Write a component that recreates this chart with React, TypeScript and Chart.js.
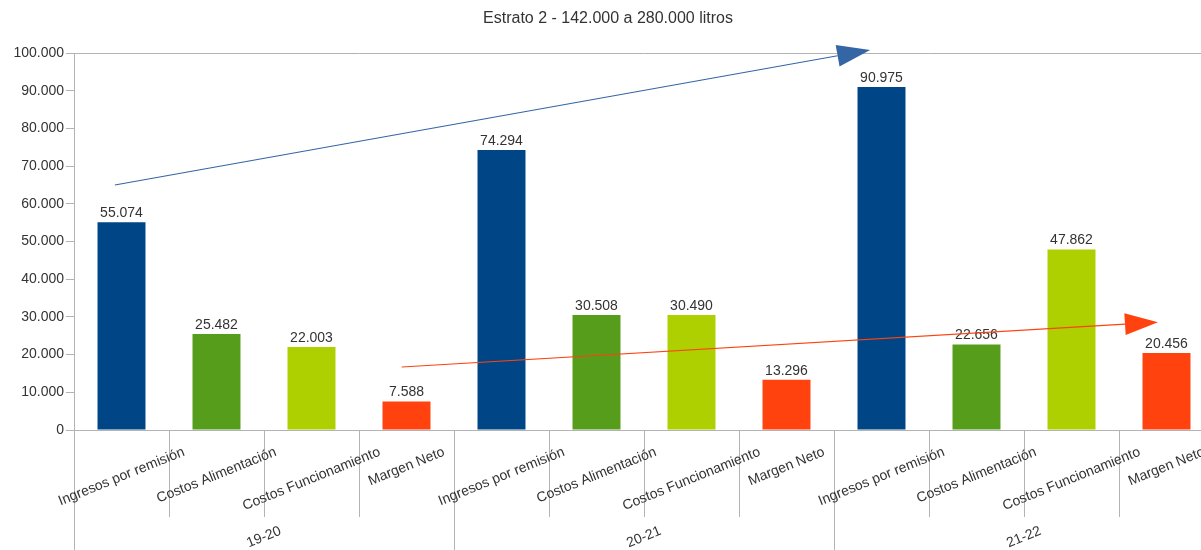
import React, { useEffect, useRef } from "react";
import { Chart, registerables } from "chart.js";

Chart.register(...registerables);

const chartTitle = "Estrato 2 - 142.000 a 280.000 litros";
const periods = ["19-20", "20-21", "21-22"];
const categories = [
  "Ingresos por remisión",
  "Costos Alimentación",
  "Costos Funcionamiento",
  "Margen Neto",
];
const ingresosPorRemision = [55074, 74294, 90975];
const costosAlimentacion = [25482, 30508, 22656];
const costosFuncionamiento = [22003, 30490, 47862];
const margenNeto = [7588, 13296, 20456];
const categoryColors = ["#004586", "#579d1c", "#aecf00", "#ff420e"];
const yMin = 0;
const yMax = 100000;
const yStep = 10000;

// Trend arrows given in data space: [category index, value]
const trendArrows = [
  { from: [-0.07, 65000], to: [7.88, 100800], color: "#3465a4" },
  { from: [2.95, 16700], to: [10.91, 28600], color: "#ff420e" },
];

const FONT = "'Liberation Sans', Arial, sans-serif";
const TEXT = "#333333";
const AXIS = "#b3b3b3";
const ANGLE = (-22 * Math.PI) / 180;

const seriesByCategory = [
  ingresosPorRemision,
  costosAlimentacion,
  costosFuncionamiento,
  margenNeto,
];

const barLabels: string[] = [];
const barValues: number[] = [];
const barColors: string[] = [];
periods.forEach((_, p) => {
  categories.forEach((c, i) => {
    barLabels.push(c);
    barValues.push(seriesByCategory[i][p]);
    barColors.push(categoryColors[i]);
  });
});

const fmt = (v: number) =>
  String(Math.round(v)).replace(/\B(?=(\d{3})+(?!\d))/g, ".");

function drawRotatedCentered(
  ctx: CanvasRenderingContext2D,
  text: string,
  cx: number,
  top: number,
  size: number
) {
  ctx.font = `${size}px ${FONT}`;
  const w = ctx.measureText(text).width;
  const h = size;
  const H = w * Math.abs(Math.sin(ANGLE)) + h * Math.cos(ANGLE);
  ctx.save();
  ctx.translate(cx, top + H / 2);
  ctx.rotate(ANGLE);
  ctx.textAlign = "center";
  ctx.textBaseline = "middle";
  ctx.fillStyle = TEXT;
  ctx.fillText(text, 0, 0);
  ctx.restore();
}

const decorPlugin = {
  id: "decor",
  afterDraw(chart: any) {
    const { ctx, chartArea, scales } = chart;
    const xs = scales.x;
    const ys = scales.y;
    const n = barLabels.length;
    const catW = (chartArea.right - chartArea.left) / n;
    const axisY = chartArea.bottom;

    ctx.save();
    // separators
    ctx.strokeStyle = AXIS;
    ctx.lineWidth = 1;
    for (let i = 0; i <= n; i++) {
      const x = Math.round(xs.getPixelForValue(i) - catW / 2) + 0.5;
      const isGroup = i % categories.length === 0;
      ctx.beginPath();
      ctx.moveTo(x, axisY);
      ctx.lineTo(x, isGroup ? chart.height : axisY + 87);
      ctx.stroke();
    }

    // category labels
    barLabels.forEach((lab, i) => {
      drawRotatedCentered(ctx, lab, xs.getPixelForValue(i), axisY + 15, 14);
    });
    // period labels
    periods.forEach((p, g) => {
      const a = xs.getPixelForValue(g * categories.length) - catW / 2;
      const b = xs.getPixelForValue((g + 1) * categories.length - 1) + catW / 2;
      drawRotatedCentered(ctx, p, (a + b) / 2, axisY + 94, 14);
    });

    // value labels
    const meta = chart.getDatasetMeta(0);
    ctx.font = `14px ${FONT}`;
    ctx.fillStyle = TEXT;
    ctx.textAlign = "center";
    ctx.textBaseline = "bottom";
    meta.data.forEach((bar: any, i: number) => {
      ctx.fillText(fmt(barValues[i]), bar.x, bar.y - 2);
    });

    // trend arrows
    trendArrows.forEach((a) => {
      const x1 = xs.getPixelForValue(a.from[0]);
      const y1 = ys.getPixelForValue(a.from[1]);
      const x2 = xs.getPixelForValue(a.to[0]);
      const y2 = ys.getPixelForValue(a.to[1]);
      const ang = Math.atan2(y2 - y1, x2 - x1);
      const len = 33;
      const hw = 11;
      const bx = x2 - len * Math.cos(ang);
      const by = y2 - len * Math.sin(ang);
      ctx.strokeStyle = a.color;
      ctx.lineWidth = 1.1;
      ctx.beginPath();
      ctx.moveTo(x1, y1);
      ctx.lineTo(bx, by);
      ctx.stroke();
      ctx.fillStyle = a.color;
      ctx.beginPath();
      ctx.moveTo(x2, y2);
      ctx.lineTo(bx - hw * Math.sin(ang), by + hw * Math.cos(ang));
      ctx.lineTo(bx + hw * Math.sin(ang), by - hw * Math.cos(ang));
      ctx.closePath();
      ctx.fill();
    });

    // title
    ctx.font = `16px ${FONT}`;
    ctx.fillStyle = TEXT;
    ctx.textAlign = "center";
    ctx.textBaseline = "middle";
    ctx.fillText(chartTitle, chart.width / 2, 19);
    ctx.restore();
  },
};

export default function App() {
  const ref = useRef<HTMLCanvasElement>(null);
  useEffect(() => {
    if (!ref.current) return;
    const chart = new Chart(ref.current, {
      type: "bar",
      data: {
        labels: barLabels,
        datasets: [
          {
            data: barValues,
            backgroundColor: barColors,
            borderWidth: 0,
            barPercentage: 0.505,
            categoryPercentage: 1,
          },
        ],
      },
      options: {
        responsive: false,
        animation: false,
        devicePixelRatio: 1,
        layout: { padding: { top: 53, bottom: 120, left: 0, right: 2 } },
        plugins: {
          legend: { display: false },
          title: { display: false },
          tooltip: { enabled: false },
        },
        scales: {
          x: {
            type: "category",
            offset: true,
            grid: { display: false },
            ticks: { display: false },
            border: { display: true, color: AXIS, width: 1 },
            afterFit: (scale: any) => {
              scale.height = 0;
            },
          },
          y: {
            min: yMin,
            max: yMax,
            ticks: {
              stepSize: yStep,
              padding: 2,
              color: TEXT,
              font: { family: FONT, size: 14 },
              callback: (v: any) => fmt(Number(v)),
            },
            grid: {
              display: true,
              drawOnChartArea: true,
              drawTicks: true,
              tickLength: 8,
              tickColor: AXIS,
              color: (c: any) =>
                c.tick && c.tick.value === yMax ? AXIS : "rgba(0,0,0,0)",
            },
            border: { display: true, color: AXIS, width: 1 },
            afterFit: (scale: any) => {
              scale.width = 74;
            },
          },
        },
      },
      plugins: [decorPlugin],
    });
    return () => chart.destroy();
  }, []);
  return (
    <div
      style={{
        position: "fixed",
        left: 0,
        top: 0,
        width: 1201,
        height: 550,
        overflow: "hidden",
        background: "#fff",
      }}
    >
      <canvas ref={ref} width={1216} height={550} style={{ display: "block" }} />
    </div>
  );
}
